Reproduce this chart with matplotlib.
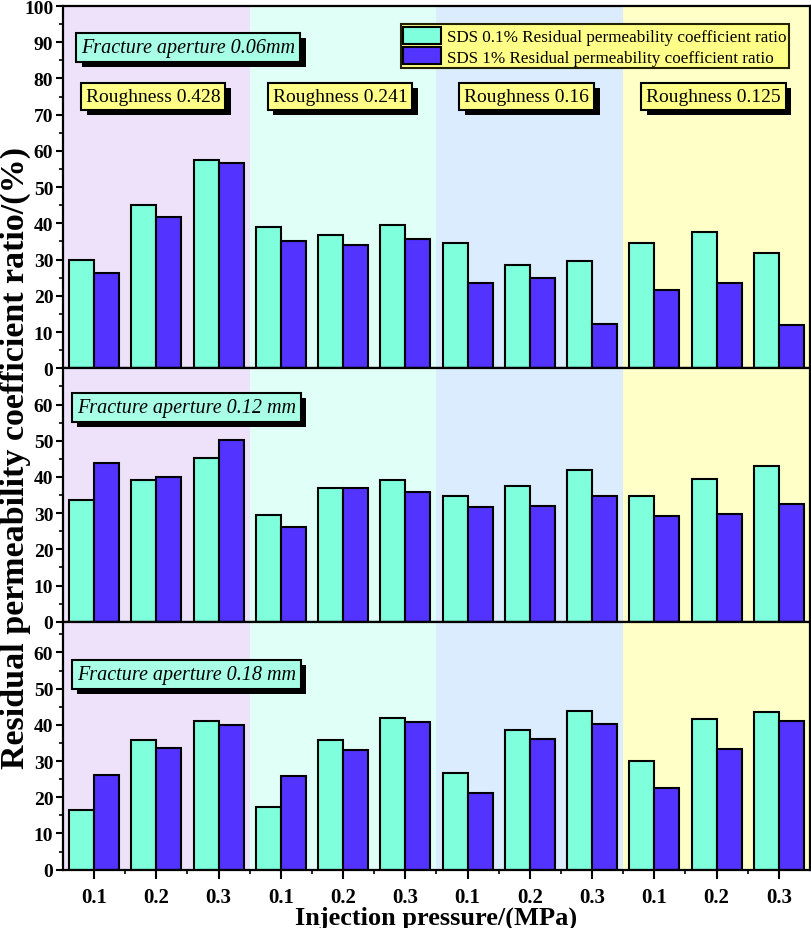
import matplotlib
matplotlib.use("Agg")
import matplotlib.pyplot as plt
import matplotlib.patheffects as pe
from matplotlib.patches import Patch
from matplotlib.ticker import MultipleLocator, FixedLocator
import numpy as np

plt.rcParams['font.family'] = ['Liberation Serif', 'DejaVu Serif']

# ---------------- data ----------------
pressures = ["0.1", "0.2", "0.3"] * 4
roughness = ["Roughness 0.428", "Roughness 0.241", "Roughness 0.16", "Roughness 0.125"]
apertures = ["Fracture aperture 0.06mm", "Fracture aperture 0.12 mm", "Fracture aperture 0.18 mm"]
series_names = ["SDS 0.1% Residual permeability coefficient ratio",
                "SDS 1% Residual permeability coefficient ratio"]

sds01_top = [29.9, 45.1, 57.5, 39.0, 36.8, 39.6, 34.5, 28.6, 29.6, 34.5, 37.6, 31.8]
sds1_top = [26.4, 41.8, 56.7, 35.0, 34.1, 35.7, 23.5, 25.0, 12.2, 21.7, 23.6, 12.0]
sds01_mid = [33.5, 39.1, 45.3, 29.6, 37.0, 39.2, 34.8, 37.6, 42.0, 34.7, 39.4, 42.9]
sds1_mid = [43.8, 40.1, 50.2, 26.1, 36.9, 35.9, 31.6, 31.9, 34.8, 29.2, 29.8, 32.6]
sds01_bot = [16.4, 35.7, 41.0, 17.2, 35.7, 42.0, 26.8, 38.6, 43.8, 30.0, 41.5, 43.6]
sds1_bot = [26.2, 33.7, 40.0, 26.0, 33.2, 40.9, 21.1, 36.2, 40.3, 22.5, 33.4, 41.0]

# ---------------- style ----------------
c_cyan = "#7FFFDC"
c_blue = "#5233FF"
bg_colors = ["#EDE2FA", "#E0FFF6", "#DAECFD", "#FFFFC8"]
box_aper = "#A8FFE6"
box_rough = "#FFFF88"

W, H = 812, 929
fig = plt.figure(figsize=(W / 100, H / 100), dpi=100)

def ax_rect(top_px, bot_px):
    return [63 / W, 1 - bot_px / H, 747 / W, (bot_px - top_px) / H]

ax_top = fig.add_axes(ax_rect(7, 369.3))
ax_mid = fig.add_axes(ax_rect(369.3, 622.7))
ax_bot = fig.add_axes(ax_rect(622.7, 870.7))
axes = [ax_top, ax_mid, ax_bot]
ylims = [(0, 100), (0, 70), (0, 68.5)]
data = [(sds01_top, sds1_top), (sds01_mid, sds1_mid), (sds01_bot, sds1_bot)]

x = np.arange(1, len(pressures) + 1)
bw = 0.4

shadow = [pe.SimplePatchShadow(offset=(4, -3.7), shadow_rgbFace='black', alpha=1.0),
          pe.Normal()]

def shadow_text(ax, xx, yy, s, fc, fs, style='normal', ha='center'):
    t = ax.text(xx, yy, s, fontsize=fs, style=style, ha=ha, va='center',
                color='black', zorder=6,
                bbox=dict(boxstyle='square,pad=0.25', fc=fc, ec='black', lw=1.5))
    t.get_bbox_patch().set_path_effects(shadow)
    return t

for i, ax in enumerate(axes):
    for g in range(4):
        ax.axvspan(0.5 + 3 * g, 3.5 + 3 * g, color=bg_colors[g], lw=0, zorder=0)
    a, b = data[i]
    ax.bar(x - bw / 2, a, width=bw, color=c_cyan, edgecolor='black', linewidth=1.5, zorder=2)
    ax.bar(x + bw / 2, b, width=bw, color=c_blue, edgecolor='black', linewidth=1.5, zorder=2)
    ax.set_xlim(0.5, 12.5)
    ax.set_ylim(*ylims[i])
    ax.yaxis.set_major_locator(MultipleLocator(10))
    ax.yaxis.set_minor_locator(MultipleLocator(5))
    ax.xaxis.set_major_locator(FixedLocator(x))
    ax.xaxis.set_minor_locator(FixedLocator(np.arange(1.5, 12.5, 1.0)))
    ax.tick_params(axis='y', which='major', direction='out', length=5, width=1.5,
                   labelsize=14, pad=2)
    ax.tick_params(axis='y', which='minor', direction='out', length=3, width=1.2)
    ax.tick_params(axis='x', which='major', direction='out', length=6.5, width=1.5,
                   labelsize=15, pad=6)
    ax.tick_params(axis='x', which='minor', direction='out', length=3, width=1.2)
    for sp in ax.spines.values():
        sp.set_linewidth(1.6)
    if i < 2:
        ax.set_xticklabels([])
    else:
        ax.set_xticklabels(pressures, fontweight='bold')

ax_top.set_yticks(np.arange(0, 101, 10))
ax_top.set_yticklabels([str(v) for v in range(0, 101, 10)], fontweight='bold')
for ax in (ax_mid, ax_bot):
    ax.set_yticks(np.arange(0, 61, 10))
    ax.set_yticklabels([str(v) for v in range(0, 61, 10)], fontweight='bold')

# aperture boxes
shadow_text(ax_top, 0.79, 88.6, apertures[0], box_aper, 14.5, style='italic', ha='left')
shadow_text(ax_mid, 0.72, 59.2, apertures[1], box_aper, 14.5, style='italic', ha='left')
shadow_text(ax_bot, 0.72, 54.0, apertures[2], box_aper, 14.5, style='italic', ha='left')

# roughness boxes
for g in range(4):
    shadow_text(ax_top, 2.0 + 3 * g - 0.05, 75.0, roughness[g], box_rough, 14)

# legend
handles = [Patch(facecolor=c_cyan, edgecolor='black', lw=1.5),
           Patch(facecolor=c_blue, edgecolor='black', lw=1.5)]
leg = ax_top.legend(handles, series_names, loc='upper right',
                    bbox_to_anchor=(1 - 21 / 747, 1 - 18 / 362.3),
                    borderaxespad=0, prop={'size': 12.3}, frameon=True, fancybox=False,
                    handlelength=2.2, handleheight=1.15, labelspacing=0.15,
                    borderpad=0.15, handletextpad=0.35)
leg.get_frame().set_facecolor(box_rough)
leg.get_frame().set_edgecolor('#222200')
leg.get_frame().set_linewidth(1.5)
leg.get_frame().set_alpha(1)
leg.set_zorder(7)

fig.text(15 / W, 1 - 458 / H, "Residual permeability coefficient ratio/(%)",
         rotation=90, ha='center', va='center', fontsize=24.5, fontweight='bold')
fig.text((63 + 747 / 2) / W, 1 - 925 / H, "Injection pressure/(MPa)",
         ha='center', va='baseline', fontsize=19, fontweight='bold')

fig.savefig("out.png", dpi=100)
